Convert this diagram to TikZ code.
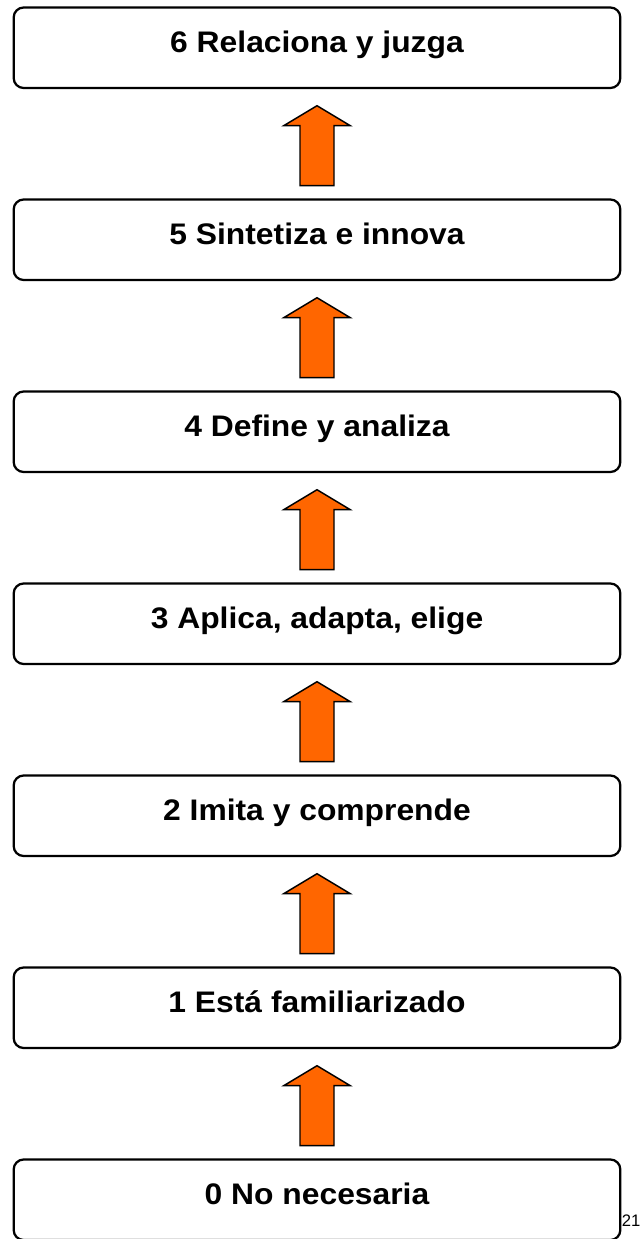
\documentclass[tikz,border=0pt]{standalone}
\usepackage{fontspec}
\setmainfont{Liberation Sans}
\newfontfamily\levelfont{Liberation Sans}[FakeStretch=1.07]
\usetikzlibrary{shapes.arrows,calc}

\begin{document}
\begin{tikzpicture}[x=0.75pt,y=0.75pt,yscale=-1,xscale=1,
  level/.style={draw, line width=1.7pt, rounded corners=7.5pt,
    minimum width=455pt, minimum height=60.4pt,
    font=\levelfont\fontsize{22.3}{26}\selectfont\bfseries,
    text height=16pt, text depth=9.5pt},
  uparrow/.style={shape=single arrow, draw, line width=1.1pt,
    fill={rgb, 255:red, 255; green, 102; blue, 0 }, rotate=90,
    minimum width=0pt, minimum height=60pt, inner xsep=0pt, inner ysep=12.2pt,
    single arrow head extend=12pt, single arrow tip angle=118, anchor=tip}]
%set diagram size to the page
\useasboundingbox (0,0) rectangle (641,1239);

% Level Boxes
\node[level] (b6) at (317,47.75) {6 Relaciona y juzga};
\node[level] (b5) at (317,239.75) {5 Sintetiza e innova};
\node[level] (b4) at (317,431.75) {4 Define y analiza};
\node[level] (b3) at (317,623.75) {3 Aplica, adapta, elige};
\node[level] (b2) at (317,815.75) {2 Imita y comprende};
\node[level] (b1) at (317,1007.75) {1 Est\'a familiarizado};
\node[level] (b0) at (317,1199.75) {0 No necesaria};

% Block Arrows
\node[uparrow] (u6) at ($(b6.south)+(0,15.7)$) {};
\node[uparrow] (u5) at ($(b5.south)+(0,15.7)$) {};
\node[uparrow] (u4) at ($(b4.south)+(0,15.7)$) {};
\node[uparrow] (u3) at ($(b3.south)+(0,15.7)$) {};
\node[uparrow] (u2) at ($(b2.south)+(0,15.7)$) {};
\node[uparrow] (u1) at ($(b1.south)+(0,15.7)$) {};

% Text Node
\node[font=\fontsize{12.5}{14}\selectfont, inner sep=0pt, anchor=west] (pg) at (621.5,1220.5) {21};

\end{tikzpicture}
\end{document}
